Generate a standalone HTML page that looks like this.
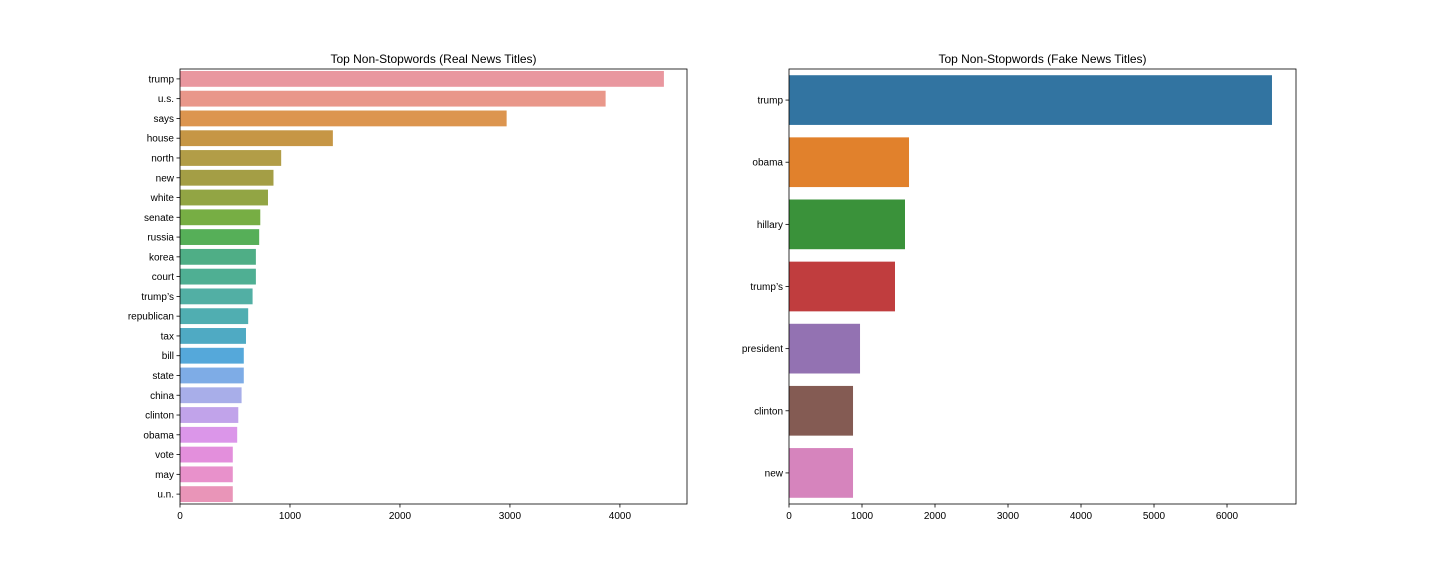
<!DOCTYPE html>
<html><head><meta charset="utf-8"><style>
body{margin:0;background:#fff;font-family:"Liberation Sans",sans-serif;}
svg text{font-family:"Liberation Sans",sans-serif;fill:#000;}
</style></head><body>
<svg id="chart" width="1440" height="576"></svg>
<script>
const realWords=["trump","u.s.","says","house","north","new","white","senate","russia","korea","court","trump’s","republican","tax","bill","state","china","clinton","obama","vote","may","u.n."];
const realCounts=[4400,3870,2970,1390,920,850,800,730,720,690,690,660,620,600,580,580,560,530,520,480,480,480];
const realColors=["#e9979f","#e9978a","#dc954f","#c69645","#b29d47","#a49e45","#92a544","#77ae44","#56af58","#4fae86","#4faf93","#52afa4","#50aeb1","#4faac3","#55a8da","#7eace6","#a8aee9","#c1a3ea","#db96e9","#e38fdc","#e891cb","#e995b8"];
const realTicks=[0,1000,2000,3000,4000];
const fakeWords=["trump","obama","hillary","trump’s","president","clinton","new"];
const fakeCounts=[6616,1644,1589,1452,973,877,877];
const fakeColors=["#3274a1","#e1812c","#3a923a","#c03d3e","#9372b2","#845b53","#d684bd"];
const fakeTicks=[0,1000,2000,3000,4000,5000,6000];
const NS="http://www.w3.org/2000/svg";
const svg=document.getElementById('chart');
function mk(tag,attrs,parent){const e=document.createElementNS(NS,tag);for(const k in attrs)e.setAttribute(k,attrs[k]);(parent||svg).appendChild(e);return e;}
function panel(key,title,x0,x1,y0,y1,xmax,words,counts,colors,ticks){
  const g=mk('g',{});
  
  
  const xs=v=>x0+(v/xmax)*(x1-x0);
  const band=(y1-y0)/words.length;
  words.forEach((w,i)=>{
    const r=mk('rect',{x:x0,y:y0+band*i+band*0.1,width:xs(counts[i])-x0,height:band*0.8,fill:colors[i]},g);
    
    
    const cy=y0+band*(i+0.5);
    mk('line',{x1:x0-3.5,x2:x0,y1:cy,y2:cy,stroke:'#000','stroke-width':0.8},g);
    const t=mk('text',{x:x0-6,y:cy+3.5,'text-anchor':'end','font-size':10},g);
    t.textContent=w;
    
    
  });
  ticks.forEach(v=>{
    const x=xs(v);
    mk('line',{x1:x,x2:x,y1:y1,y2:y1+3.5,stroke:'#000','stroke-width':0.8},g);
    const t=mk('text',{x:x,y:y1+15,'text-anchor':'middle','font-size':10},g);
    t.textContent=v;
    
    
  });
  const f=mk('rect',{x:x0,y:y0,width:x1-x0,height:y1-y0,fill:'none',stroke:'#000','stroke-width':0.8},g);
  
  
  const tt=mk('text',{x:(x0+x1)/2,y:y0-6,'text-anchor':'middle','font-size':12},g);
  tt.textContent=title;
  
  
}
panel('real','Top Non-Stopwords (Real News Titles)',180,687,69,504,4610,realWords,realCounts,realColors,realTicks);
panel('fake','Top Non-Stopwords (Fake News Titles)',789,1296,69,504,6945,fakeWords,fakeCounts,fakeColors,fakeTicks);
</script>
</body></html>
